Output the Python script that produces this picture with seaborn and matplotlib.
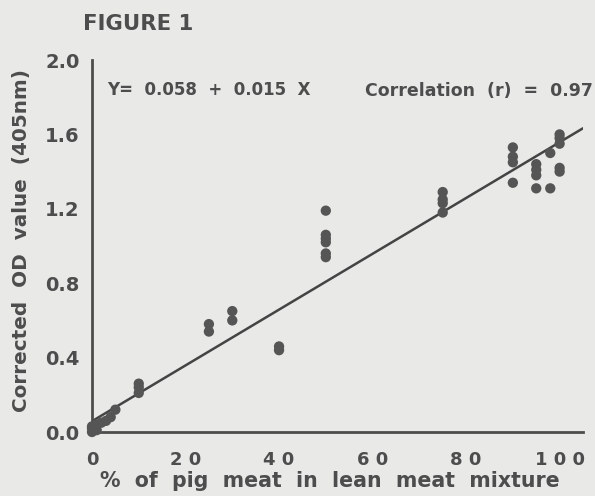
import numpy as np
import pandas as pd
import matplotlib
matplotlib.use("Agg")
import matplotlib.pyplot as plt
import seaborn as sns
from matplotlib.ticker import MultipleLocator, FixedLocator

# ---- data ----
pct_pig = [0, 0, 0, 1, 1, 2, 3, 4, 5,
           10, 10, 10,
           25, 25,
           30, 30,
           40, 40,
           50, 50, 50, 50, 50, 50,
           75, 75, 75, 75,
           90, 90, 90, 90,
           95, 95, 95, 95,
           98, 98,
           100, 100, 100, 100, 100]
od_value = [0.00, 0.02, 0.03, 0.01, 0.04, 0.05, 0.06, 0.08, 0.12,
            0.21, 0.24, 0.26,
            0.54, 0.58,
            0.60, 0.65,
            0.44, 0.46,
            0.94, 0.96, 1.02, 1.04, 1.06, 1.19,
            1.18, 1.23, 1.25, 1.29,
            1.34, 1.45, 1.48, 1.53,
            1.31, 1.38, 1.41, 1.44,
            1.31, 1.50,
            1.40, 1.42, 1.55, 1.58, 1.60]
fit_intercept = 0.058
fit_slope = 0.015
fit_x_range = [0, 105]
x_tick_values = [0, 20, 40, 60, 80, 100]
x_tick_labels = ["0", "2 0", "4 0", "6 0", "8 0", "1 0 0"]
y_tick_values = [0.0, 0.4, 0.8, 1.2, 1.6, 2.0]
y_tick_labels = ["0.0", "0.4", "0.8", "1.2", "1.6", "2.0"]

df = pd.DataFrame({"pct": pct_pig, "od": od_value})

sns.set_theme(style="white")
bg = "#e9e9e7"
ink = "#4d4d4d"
plt.rcParams["font.family"] = ["DejaVu Sans"]

W, H = 595, 496
fig = plt.figure(figsize=(W/100, H/100), dpi=100, facecolor=bg)
ax = fig.add_axes([92/W, 1-432/H, (583-92)/W, (432-60)/H])
ax.set_facecolor(bg)

sns.scatterplot(data=df, x="pct", y="od", ax=ax, s=55, color="#555555",
                edgecolor="none", clip_on=False, zorder=3)

fx = np.array(fit_x_range, dtype=float)
ax.plot(fx, fit_intercept + fit_slope * fx, color="#444444", lw=1.8, zorder=2)

ax.set_xlim(0, 105)
ax.set_ylim(0, 2.0)
ax.set_xlabel("")
ax.set_ylabel("")
ax.xaxis.set_major_locator(FixedLocator(x_tick_values))
ax.set_xticklabels(x_tick_labels)
ax.xaxis.set_minor_locator(FixedLocator([v for v in range(5, 106, 5) if v % 20 != 0]))
ax.yaxis.set_major_locator(FixedLocator(y_tick_values))
ax.set_yticklabels(y_tick_labels)
ax.yaxis.set_minor_locator(MultipleLocator(0.2))

for side in ["top", "right"]:
    ax.spines[side].set_visible(False)
for side in ["left", "bottom"]:
    ax.spines[side].set_color(ink)
    ax.spines[side].set_linewidth(2)

ax.tick_params(axis="both", which="major", direction="out", length=6, width=2,
               color=ink, labelcolor=ink, pad=3)
ax.tick_params(axis="both", which="minor", direction="out", length=4, width=2,
               color=ink)
ax.tick_params(axis="x", which="major", labelsize=13, pad=8)
ax.tick_params(axis="y", which="major", labelsize=14, pad=3)
for lbl in ax.get_xticklabels() + ax.get_yticklabels():
    lbl.set_fontweight("bold")

fig.text(330/W, 1-481/H, "%  of  pig  meat  in  lean  meat  mixture", fontsize=14.8,
         fontweight="bold", color=ink, ha="center", va="center")
fig.text(22/W, 1-240/H, "Corrected  OD  value  (405nm)", fontsize=14.4,
         fontweight="bold", color=ink, ha="center", va="center", rotation=90)

fig.text(83/W, 1-24/H, "FIGURE 1", fontsize=15.3, fontweight="bold",
         color=ink, va="center", ha="left")
fig.text(107/W, 1-90/H, "Y=  0.058  +  0.015  X",
         fontsize=12, fontweight="bold", color=ink, va="center", ha="left")
fig.text(593/W, 1-91/H, "Correlation  (r)  =  0.97",
         fontsize=12.5, fontweight="bold", color=ink, va="center", ha="right")

fig.savefig("out.png", dpi=100, facecolor=bg)
